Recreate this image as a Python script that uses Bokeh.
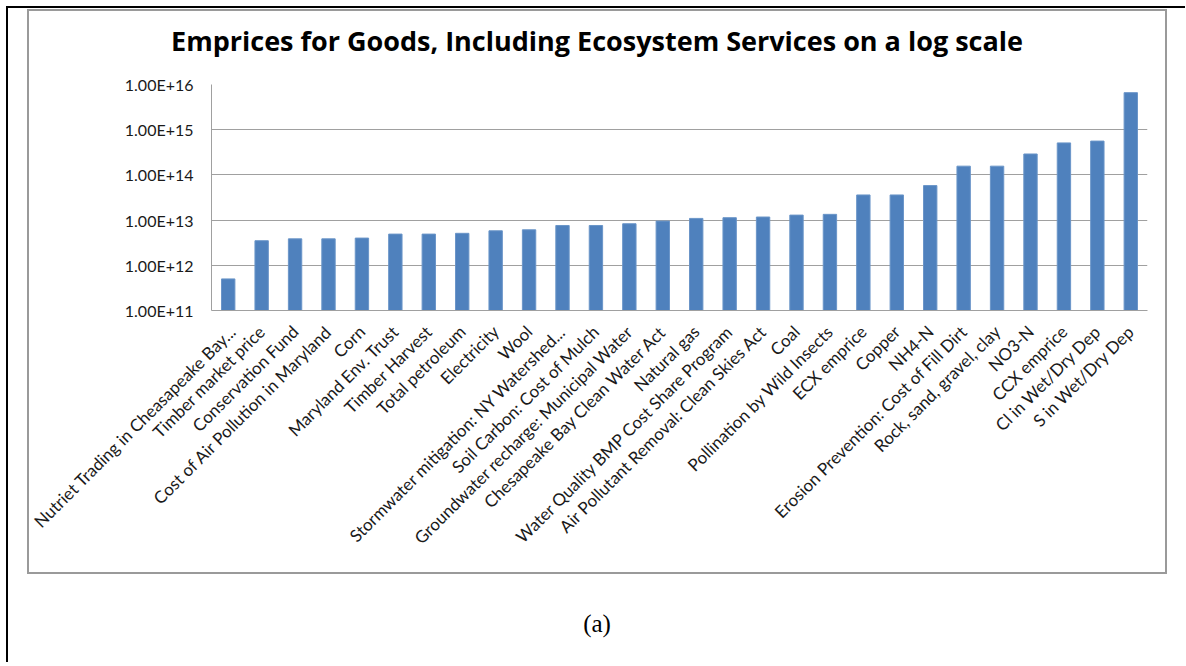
import math
from bokeh.plotting import figure
from bokeh.layouts import column
from bokeh.models import (FactorRange, Range1d, FixedTicker, CustomJSTickFormatter,
                          ColumnDataSource, Div)
from bokeh.embed import file_html
from bokeh.resources import INLINE

categories = [
    "Nutriet Trading in Cheasapeake Bay...",
    "Timber market price",
    "Conservation Fund",
    "Cost of Air Pollution in Maryland",
    "Corn",
    "Maryland Env. Trust",
    "Timber Harvest",
    "Total petroleum",
    "Electricity",
    "Wool",
    "Stormwater mitigation: NY Watershed...",
    "Soil Carbon: Cost of Mulch",
    "Groundwater recharge: Municipal Water",
    "Chesapeake Bay Clean Water Act",
    "Natural gas",
    "Water Quality BMP Cost Share Program",
    "Air Pollutant Removal: Clean Skies Act",
    "Coal",
    "Pollination by Wild Insects",
    "ECX emprice",
    "Copper",
    "NH4-N",
    "Erosion Prevention: Cost of Fill Dirt",
    "Rock, sand, gravel, clay",
    "NO3-N",
    "CCX emprice",
    "Cl in Wet/Dry Dep",
    "S in Wet/Dry Dep",
]
emprices = [
    5.0e11, 3.5e12, 3.85e12, 3.85e12, 4.0e12, 4.9e12, 4.9e12, 5.1e12,
    5.8e12, 6.1e12, 7.6e12, 7.6e12, 8.3e12, 9.5e12, 1.09e13, 1.13e13,
    1.17e13, 1.29e13, 1.34e13, 3.6e13, 3.6e13, 5.8e13, 1.56e14, 1.56e14,
    2.9e14, 5.1e14, 5.6e14, 6.6e15,
]
y_ticks = [1e11, 1e12, 1e13, 1e14, 1e15, 1e16]
title_text = "Emprices for Goods, Including Ecosystem Services on a log scale"
caption_text = "(a)"

W, H = 1136, 510
src = ColumnDataSource(dict(cat=categories, val=emprices))

p = figure(width=W, height=H,
           x_range=FactorRange(factors=categories, range_padding=0),
           y_axis_type="log", y_range=Range1d(y_ticks[0], y_ticks[-1]),
           output_backend="svg", toolbar_location=None, title=None,
           min_border_left=182, min_border_right=18,
           min_border_top=22, min_border_bottom=262)
p.background_fill_color = "white"
p.border_fill_color = "white"
p.outline_line_color = None

p.vbar(x="cat", top="val", bottom=y_ticks[0], width=0.4, source=src,
       fill_color="#4F81BD", line_color="#6A95C8", line_width=1)

axis_gray = "#a0a0a0"
p.yaxis.ticker = FixedTicker(ticks=y_ticks, minor_ticks=[])
p.yaxis.formatter = CustomJSTickFormatter(code="return tick.toExponential(2).toUpperCase();")
p.yaxis.major_tick_out = 0
p.yaxis.major_tick_in = 0
p.yaxis.minor_tick_out = 0
p.yaxis.minor_tick_in = 0
p.yaxis.axis_line_color = axis_gray
p.yaxis.major_label_standoff = 18
p.yaxis.major_label_text_font = "Lato"
p.yaxis.major_label_text_font_size = "16px"
p.yaxis.major_label_text_color = "#1a1a1a"

p.xaxis.major_label_orientation = math.pi / 4
p.xaxis.major_tick_out = 0
p.xaxis.major_tick_in = 0
p.xaxis.axis_line_color = axis_gray
p.xaxis.major_label_standoff = 18
p.xaxis.major_label_text_font = "Lato"
p.xaxis.major_label_text_font_size = "17px"
p.xaxis.major_label_text_color = "#1a1a1a"

p.xgrid.visible = False
p.ygrid.grid_line_color = axis_gray
p.ygrid.grid_line_width = 1

title_div = Div(text=title_text, width=W, height=40, margin=(11, 0, 0, 0),
                styles={"text-align": "center", "font-family": "'Open Sans', sans-serif",
                        "font-size": "27px", "font-weight": "bold", "color": "black",
                        "white-space": "nowrap"})

chart_box = column(title_div, p, spacing=0,
                   styles={"border": "2px solid #9a9a9a"})

cap = Div(text=caption_text, width=1140, height=56, margin=(32, 0, 0, 0),
          styles={"text-align": "center", "font-family": "'Liberation Serif', serif",
                  "font-size": "25px", "color": "black"})

root = column(chart_box, cap, margin=(6, 0, 0, 6),
              styles={"border-top": "2px solid black", "border-left": "2px solid black",
                      "padding": "1px 18px 0px 19px"})

open("out.html", "w").write(file_html(root, INLINE))
